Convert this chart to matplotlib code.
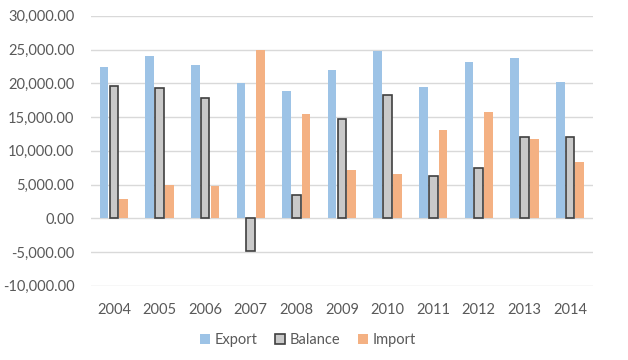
import numpy as np
import matplotlib
matplotlib.use('Agg')
import matplotlib.pyplot as plt
from matplotlib.ticker import FuncFormatter

years = ['2004', '2005', '2006', '2007', '2008', '2009', '2010', '2011', '2012', '2013', '2014']
export = [22400, 24100, 22700, 20000, 18800, 22000, 24800, 19400, 23200, 23800, 20200]
balance = [19600, 19300, 17900, -4900, 3400, 14700, 18300, 6300, 7500, 12000, 12000]
imports = [2900, 5000, 4800, 25000, 15400, 7200, 6500, 13100, 15800, 11800, 8300]

textcolor = '#595959'
plt.rcParams['font.family'] = ['Lato', 'DejaVu Sans']

fig = plt.figure(figsize=(6.28, 3.6), dpi=100)
ax = fig.add_axes([0.145, 0.206, 0.799, 0.75])

x = np.arange(len(years))
w = 0.19
step = 0.215
ax.bar(x - step, export, w, color='#9DC3E6', label='Export', zorder=3)
ax.bar(x, balance, w, color='#C9C9C9', edgecolor='#404040', linewidth=1.2, label='Balance', zorder=3)
ax.bar(x + step, imports, w, color='#F4B183', label='Import', zorder=3)

ax.set_xlim(-0.5, len(years) - 0.5)
ax.set_ylim(-10000, 30000)
ax.set_yticks(np.arange(-10000, 30001, 5000))
ax.yaxis.set_major_formatter(FuncFormatter(lambda v, p: '{:,.2f}'.format(v)))
ax.set_xticks(x)
ax.set_xticklabels(years)
ax.grid(axis='y', color='#D9D9D9', linewidth=1, zorder=0)
for s in ax.spines.values():
    s.set_visible(False)
ax.tick_params(length=0, colors=textcolor, labelsize=10.5)
ax.tick_params(axis='x', pad=12)
ax.tick_params(axis='y', pad=12)

fig.legend(loc='lower center', bbox_to_anchor=(0.49, 0.0), ncol=3, frameon=False,
           fontsize=10.5, labelcolor=textcolor, handlelength=0.7, handleheight=0.7,
           handletextpad=0.3, columnspacing=1.2)

fig.savefig('out.png', dpi=100)
